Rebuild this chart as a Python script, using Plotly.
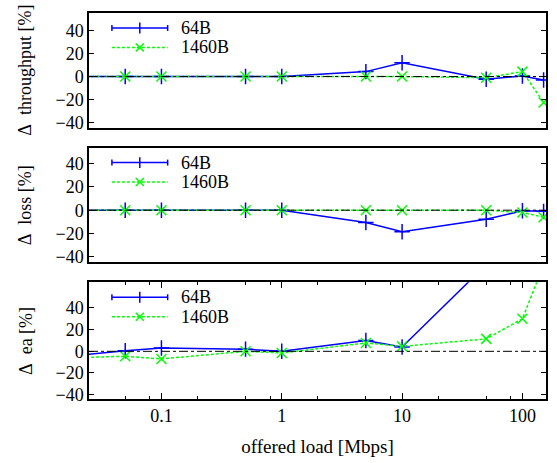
import plotly.graph_objects as go

# ---- data ----
load_mbps = [0.01, 0.05, 0.1, 0.5, 1, 5, 10, 50, 100, 150]

thr_64 = [0, 0, 0, 0, 0, 4.3, 12, -2.3, 0.5, -3]
thr_1460 = [0, 0, 0, 0, 0, 0, 0, -1, 4.3, -22.6]

loss_64 = [0, 0, 0, 0, 0, -10.5, -18.5, -7.7, -0.5, -1]
loss_1460 = [0, 0, 0, 0, 0, 0, 0, 0, -2, -6]

ea_64 = [-7, 0.5, 3, 2, 0, 10, 4, 80, 160, 220]
ea_1460 = [-6.7, -4.6, -7, 0, -1.5, 7.7, 4.6, 11.5, 30, 80]

series_names = ["64B", "1460B"]
panel_titles = ["\u0394\u00a0\u00a0throughput [%]", "\u0394\u00a0\u00a0loss [%]", "\u0394\u00a0\u00a0ea [%]"]
y_ticks = [-40, -20, 0, 20, 40]
x_ticks = [0.1, 1, 10, 100]
x_tick_labels = ["0.1", "1", "10", "100"]
x_minor = [0.05, 0.08, 0.2, 0.5, 0.8, 2, 5, 8, 20, 50, 80]
x_title = "offered load [Mbps]"

panels = [(thr_64, thr_1460), (loss_64, loss_1460), (ea_64, ea_1460)]
y_ranges = [[-44.6, 55.4], [-44.7, 53.6], [-44, 63.7]]

BLUE = "#0000ff"
GREEN = "#00ff00"
FONT = "Liberation Serif, Times New Roman, serif"
FS = 18

W, H = 557, 463
L, R, T, B = 89, 9, 13, 63
ph = H - T - B
# pixel rows of the three panels (top, bottom)
rows = [(13, 128), (148, 263), (283, 400)]
domains = [[(400 - b) / ph, (400 - t) / ph] for (t, b) in rows]

fig = go.Figure()

for i, (s64, s1460) in enumerate(panels):
    n = "" if i == 0 else str(i + 1)
    xa, ya = "x" + n, "y" + n
    fig.add_trace(go.Scatter(
        x=load_mbps, y=s64, xaxis=xa, yaxis=ya, mode="lines+markers",
        line=dict(color=BLUE, width=1.5),
        marker=dict(symbol="cross-thin", size=11, line=dict(color=BLUE, width=1.5)),
        showlegend=False, cliponaxis=True))
    fig.add_trace(go.Scatter(
        x=load_mbps, y=s1460, xaxis=xa, yaxis=ya, mode="lines+markers",
        line=dict(color=GREEN, width=1.5, dash="3px,2px"),
        marker=dict(symbol="x-thin", size=10, line=dict(color=GREEN, width=1.5)),
        showlegend=False, cliponaxis=True))

layout = dict(
    width=W, height=H,
    margin=dict(l=L, r=R, t=T, b=B, pad=0),
    paper_bgcolor="white", plot_bgcolor="white",
    font=dict(family=FONT, size=FS, color="black"),
)

shapes = []
annotations = []
pw = W - L - R
for i in range(3):
    n = "" if i == 0 else str(i + 1)
    last = (i == 2)
    layout["xaxis" + n] = dict(
        type="log", range=[-1.60206, 2.196], anchor="y" + n,
        showline=True, linecolor="black", linewidth=1.5, mirror="allticks" if last else True,
        showgrid=False, zeroline=False,
        ticks="inside" if last else "", ticklen=6, tickwidth=1, tickcolor="black",
        tickvals=x_ticks, ticktext=x_tick_labels, showticklabels=last,
        minor=dict(tickvals=x_minor, ticks="inside" if last else "", ticklen=3,
                   tickcolor="black", showgrid=False),
        tickfont=dict(size=FS),
        title=dict(text=x_title if last else "", standoff=14, font=dict(size=FS + 1)),
    )
    if i > 0:
        layout["xaxis" + n]["matches"] = "x"
    layout["yaxis" + n] = dict(
        range=y_ranges[i], domain=domains[i], anchor="x" + n,
        showline=True, linecolor="black", linewidth=1.5, mirror="allticks",
        showgrid=False, zeroline=False,
        ticks="inside", ticklen=5, tickwidth=1, tickcolor="black",
        tickvals=y_ticks, tickfont=dict(size=FS),
    )
    # zero reference line
    shapes.append(dict(type="line", xref="x" + n + " domain", yref="y" + n,
                       x0=0, x1=1, y0=0, y1=0,
                       line=dict(color="black", width=1, dash="dashdot")))
    # y title
    annotations.append(dict(text=panel_titles[i], xref="paper", yref="y" + n + " domain",
                            x=(25 - L) / pw, y=0.5, xanchor="center", yanchor="middle",
                            textangle=-90, showarrow=False, font=dict(size=FS)))
    # key
    top, bot = rows[i]
    hpx = bot - top
    def fy(py):
        return 1 - (py - top) / hpx
    def fx(px):
        return (px - L) / pw
    xr = "x" + n + " domain"
    yr = "y" + n + " domain"
    for k, (col, dash, name) in enumerate([(BLUE, "solid", series_names[0]),
                                           (GREEN, "3px,2px", series_names[1])]):
        yk = top + 15 + 19.5 * k
        shapes.append(dict(type="line", xref=xr, yref=yr, x0=fx(112), x1=fx(168),
                           y0=fy(yk), y1=fy(yk), line=dict(color=col, width=1.5, dash=dash)))
        if k == 0:
            for ex in (112, 168):
                shapes.append(dict(type="line", xref=xr, yref=yr, x0=fx(ex), x1=fx(ex),
                                   y0=fy(yk - 3), y1=fy(yk + 3), line=dict(color=col, width=1.5)))
            shapes.append(dict(type="line", xref=xr, yref=yr, x0=fx(140), x1=fx(140),
                               y0=fy(yk - 5.5), y1=fy(yk + 5.5), line=dict(color=col, width=1.5)))
        else:
            for dy in (-1, 1):
                shapes.append(dict(type="line", xref=xr, yref=yr, x0=fx(136), x1=fx(144),
                                   y0=fy(yk - 4 * dy), y1=fy(yk + 4 * dy),
                                   line=dict(color=col, width=1.5)))
        annotations.append(dict(text=name, xref=xr, yref=yr, x=fx(179), y=fy(yk),
                                xanchor="left", yanchor="middle", showarrow=False,
                                font=dict(size=FS)))

layout["shapes"] = shapes
layout["annotations"] = annotations
fig.update_layout(**layout)
fig.write_html("out.html", config={"displayModeBar": False})

# remove the browser's default body margin so the figure sits at the page origin
with open("out.html", "r", encoding="utf-8") as f:
    html = f.read()
html = html.replace("<head>", "<head><style>html,body{margin:0;padding:0;overflow:hidden;}</style>", 1)
with open("out.html", "w", encoding="utf-8") as f:
    f.write(html)
